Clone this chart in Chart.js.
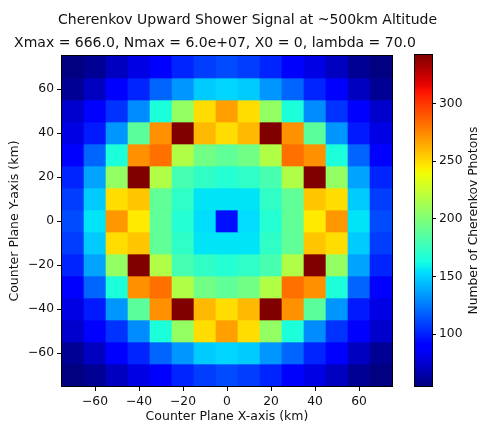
<!DOCTYPE html>
<html><head><meta charset="utf-8">
<script src="https://cdn.jsdelivr.net/npm/chart.js@4"></script>
<style>
html,body{margin:0;padding:0;background:#fff;overflow:hidden;width:479px;height:425px}
#m{position:absolute;left:0;top:0;width:479px;height:425px}
#c{position:absolute;left:400px;top:0;width:81px;height:425px}
</style></head><body>
<div id="m"><canvas id="main"></canvas></div>
<div id="c"><canvas id="cbar"></canvas></div>
<script>
const titleLine1 = 'Cherenkov Upward Shower Signal at ~500km Altitude';
const titleLine2 = 'Xmax = 666.0, Nmax = 6.0e+07, X0 = 0, lambda = 70.0';
const xLabel = 'Counter Plane X-axis (km)';
const yLabel = 'Counter Plane Y-axis (km)';
const cbarLabel = 'Number of Cherenkov Photons';

const xCenters = [-70, -60, -50, -40, -30, -20, -10, 0, 10, 20, 30, 40, 50, 60, 70];
const yCenters = [70, 60, 50, 40, 30, 20, 10, 0, -10, -20, -30, -40, -50, -60, -70];
const xTicks = [-60, -40, -20, 0, 20, 40, 60];
const yTicks = [-60, -40, -20, 0, 20, 40, 60];
const cbarTicks = [100, 150, 200, 250, 300];

// photons[row][col], row 0 = top (y = 70)
const photons = [
  [55, 60, 71, 80, 90, 101, 108, 112, 108, 101, 90, 80, 71, 60, 55],
  [60, 71, 90, 101, 119, 133, 148, 151, 148, 133, 119, 101, 90, 71, 60],
  [74, 90, 105, 130, 165, 207, 249, 268, 249, 207, 165, 130, 105, 90, 74],
  [80, 98, 133, 187, 272, 342, 260, 249, 260, 342, 272, 187, 133, 98, 80],
  [90, 119, 165, 272, 282, 217, 195, 189, 195, 217, 282, 272, 165, 119, 90],
  [101, 137, 207, 342, 217, 180, 172, 168, 172, 180, 217, 342, 207, 137, 101],
  [108, 148, 249, 256, 189, 172, 155, 155, 155, 172, 189, 256, 249, 148, 108],
  [112, 155, 270, 245, 189, 168, 153, 95, 153, 168, 189, 245, 270, 155, 112],
  [108, 148, 249, 256, 189, 172, 155, 155, 155, 172, 189, 256, 249, 148, 108],
  [101, 137, 207, 342, 217, 180, 172, 168, 172, 180, 217, 342, 207, 137, 101],
  [90, 119, 165, 272, 282, 217, 195, 189, 195, 217, 282, 272, 165, 119, 90],
  [80, 98, 133, 187, 272, 342, 260, 249, 260, 342, 272, 187, 133, 98, 80],
  [74, 90, 105, 130, 165, 207, 249, 268, 249, 207, 165, 130, 105, 90, 74],
  [60, 71, 90, 101, 119, 133, 148, 151, 148, 133, 119, 101, 90, 71, 60],
  [55, 60, 71, 80, 90, 101, 108, 112, 108, 101, 90, 80, 71, 60, 55]
];

const FONT = 'DejaVu Sans';
const TXT = '#111';
const half = 5;
const vmin = Math.min(...photons.flat());
const vmax = Math.max(...photons.flat());

function interp(pts, t) {
  for (let i = 1; i < pts.length; i++) {
    if (t <= pts[i][0]) {
      const [x0, y0] = pts[i - 1], [x1, y1] = pts[i];
      return y0 + (y1 - y0) * (t - x0) / (x1 - x0);
    }
  }
  return pts[pts.length - 1][1];
}
const JR = [[0, 0], [0.35, 0], [0.66, 1], [0.89, 1], [1, 0.5]];
const JG = [[0, 0], [0.125, 0], [0.375, 1], [0.64, 1], [0.91, 0], [1, 0]];
const JB = [[0, 0.5], [0.11, 1], [0.34, 1], [0.65, 0], [1, 0]];
function jet(t) {
  t = Math.max(0, Math.min(1, t));
  const r = Math.round(255 * interp(JR, t)), g = Math.round(255 * interp(JG, t)), b = Math.round(255 * interp(JB, t));
  return `rgb(${r},${g},${b})`;
}
const colorOf = v => jet((v - vmin) / (vmax - vmin));
const fmt = v => v < 0 ? '\u2212' + Math.abs(v) : String(v);

const datasets = photons.map((row, i) => ({
  data: row.map((v, j) => ({ x: xCenters[j], y: [yCenters[i] - half, yCenters[i] + half] })),
  backgroundColor: row.map(colorOf),
  borderWidth: 0,
  categoryPercentage: 1,
  barPercentage: 1,
  grouped: false
}));

const framePlugin = {
  id: 'frame',
  afterDatasetsDraw(chart) {
    const { ctx, chartArea: a } = chart;
    ctx.save();
    ctx.strokeStyle = '#000';
    ctx.lineWidth = 1;
    ctx.strokeRect(a.left - 0.5, a.top - 0.5, a.right - a.left + 1, a.bottom - a.top + 1);
    ctx.restore();
  }
};

const titlePlugin = {
  id: 'titles2',
  afterDraw(chart) {
    const ctx = chart.ctx;
    ctx.save();
    ctx.fillStyle = TXT;
    ctx.font = `14px "${FONT}"`;
    ctx.textAlign = 'center';
    ctx.textBaseline = 'alphabetic';
    ctx.fillText(titleLine1, 247.5, 24);
    ctx.fillText(titleLine2, 215, 46.5);
    ctx.restore();
  }
};

function axisCommon(ticksArr, title, fit, pad) {
  return {
    type: 'linear', min: -75, max: 75, offset: false,
    afterBuildTicks: s => { s.ticks = ticksArr.map(v => ({ value: v })); },
    afterFit: fit,
    grid: { drawOnChartArea: false, offset: false, tickLength: 5, color: '#000', tickWidth: 1 },
    border: { display: false },
    ticks: { font: { family: FONT, size: 12.3 }, color: TXT, padding: 3, maxRotation: 0, autoSkip: false, callback: v => fmt(v) },
    title: { display: true, text: title, color: TXT, font: { family: FONT, size: 12.5 }, padding: pad }
  };
}

new Chart(document.getElementById('main'), {
  type: 'bar',
  data: { datasets },
  options: {
    responsive: true, maintainAspectRatio: false, animation: false,
    layout: { padding: { top: 56, right: 87, left: 0, bottom: 0 } },
    plugins: { legend: { display: false }, tooltip: { enabled: false } },
    scales: {
      x: axisCommon(xTicks, xLabel, s => { s.height = 39; }, { top: 0, bottom: 1 }),
      y: axisCommon(yTicks, yLabel, s => { s.width = 62; }, { top: 7, bottom: 0 })
    }
  },
  plugins: [framePlugin, titlePlugin]
});

const cbarLabelPlugin = {
  id: 'cbarLabel',
  afterDraw(chart) {
    const { ctx, chartArea: a } = chart;
    ctx.save();
    ctx.fillStyle = TXT;
    ctx.font = `12.3px "${FONT}"`;
    ctx.textAlign = 'center';
    ctx.textBaseline = 'middle';
    ctx.translate(73.5, (a.top + a.bottom) / 2);
    ctx.rotate(-Math.PI / 2);
    ctx.fillText(cbarLabel, 0, 0);
    ctx.restore();
  }
};

new Chart(document.getElementById('cbar'), {
  type: 'bar',
  data: {
    labels: [''],
    datasets: [{
      data: [[vmin, vmax]],
      borderWidth: 0, categoryPercentage: 1, barPercentage: 1,
      backgroundColor: (c) => {
        const a = c.chart.chartArea;
        if (!a) return null;
        const g = c.chart.ctx.createLinearGradient(0, a.bottom, 0, a.top);
        for (let i = 0; i <= 64; i++) g.addColorStop(i / 64, jet(i / 64));
        return g;
      }
    }]
  },
  options: {
    responsive: true, maintainAspectRatio: false, animation: false,
    layout: { padding: { top: 55, left: 15, bottom: 39, right: 0 } },
    plugins: { legend: { display: false }, tooltip: { enabled: false } },
    scales: {
      x: { display: false, offset: true },
      y: {
        position: 'right', min: vmin, max: vmax,
        afterBuildTicks: s => { s.ticks = cbarTicks.map(v => ({ value: v })); },
        afterFit: s => { s.width = 49; },
        grid: { drawOnChartArea: false, tickLength: 4, color: '#000' },
        border: { display: false },
        ticks: { font: { family: FONT, size: 12.3 }, color: TXT, padding: 3 }
      }
    }
  },
  plugins: [framePlugin, cbarLabelPlugin]
});
</script>
</body></html>
